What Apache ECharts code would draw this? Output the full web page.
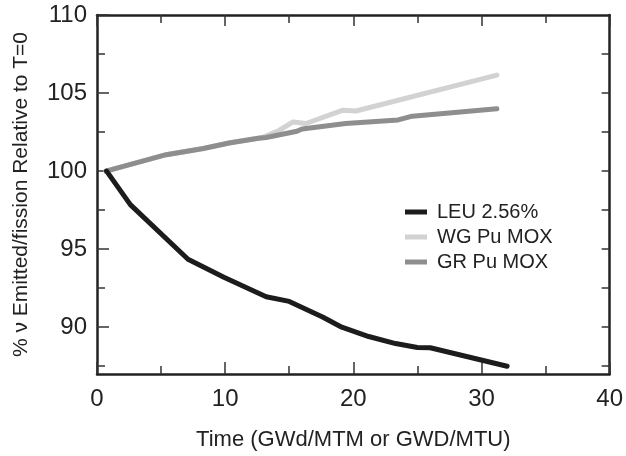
<!DOCTYPE html>
<html>
<head>
<meta charset="utf-8">
<script src="https://cdn.jsdelivr.net/npm/echarts@6/dist/echarts.min.js"></script>
<style>html,body{margin:0;padding:0;background:#fff}#c{width:626px;height:456px}</style>
</head>
<body>
<div id="c"></div>
<script>
const seriesNames = ['LEU 2.56%', 'WG Pu MOX', 'GR Pu MOX'];
const leu = [[0.75,100],[2.6,97.85],[7.1,94.35],[9.9,93.2],[13.2,91.95],[15.0,91.65],[17.6,90.65],[19.1,90.0],[21.2,89.4],[23.3,88.95],[25.0,88.7],[26.0,88.68],[32.0,87.5]];
const wg = [[0.7,100],[5.4,101.05],[8.3,101.45],[10.3,101.8],[12.9,102.15],[14.2,102.6],[15.3,103.15],[16.3,103.05],[19.2,103.9],[20.2,103.85],[31.2,106.15]];
const gr = [[0.7,100],[5.4,101.05],[8.3,101.45],[10.3,101.8],[12.6,102.1],[13.2,102.15],[15.6,102.55],[16.0,102.7],[19.4,103.05],[23.5,103.28],[24.6,103.52],[31.2,104.0]];
const yMajor = [90, 95, 100, 105, 110];
const yMinor = [87.5, 92.5, 97.5, 102.5, 107.5];
const yRight = [87.5, 90, 92.5, 95, 97.5, 100, 102.5, 105, 107.5];
const xTitle = 'Time (GWd/MTM or GWD/MTU)';
const yTitle = '% \u03bd Emitted/fission Relative to T=0';

const FONT = 'Liberation Sans';
const AX = '#222';
const chart = echarts.init(document.getElementById('c'), null, {renderer: 'canvas'});
const lineW = 2.5;
const tickStyle = {color: '#333', width: 1.5};
chart.setOption({
  animation: false,
  backgroundColor: '#fff',
  grid: {left: 97, right: 14, top: 15, bottom: 79, containLabel: false},
  legend: {
    orient: 'vertical', left: 405, top: 202, padding: 0,
    itemWidth: 22, itemHeight: 5, itemGap: 5,
    textStyle: {fontFamily: FONT, fontSize: 20, color: '#222', padding: [0, 0, 0, 5]},
    data: seriesNames.map(n => ({name: n, icon: 'rect'}))
  },
  xAxis: [
    {type: 'value', position: 'bottom', min: 0, max: 40, interval: 10,
     name: xTitle, nameLocation: 'middle', nameGap: 55,
     nameTextStyle: {fontFamily: FONT, fontSize: 22, color: '#222'},
     axisLine: {show: true, lineStyle: {color: AX, width: lineW}},
     axisTick: {show: true, inside: true, length: 12, lineStyle: tickStyle},
     minorTick: {show: true, splitNumber: 2, length: 8, lineStyle: tickStyle},
     axisLabel: {fontFamily: FONT, fontSize: 24, color: '#222', margin: 13},
     splitLine: {show: false}},
    {type: 'value', position: 'top', min: 0, max: 40, interval: 10,
     axisLine: {show: true, lineStyle: {color: AX, width: lineW}},
     axisTick: {show: true, inside: true, length: 11, lineStyle: tickStyle},
     minorTick: {show: true, splitNumber: 2, length: 8, lineStyle: tickStyle},
     axisLabel: {show: false}, splitLine: {show: false}}
  ],
  yAxis: [
    {type: 'value', position: 'left', min: 87, max: 110,
     name: yTitle, nameLocation: 'middle', nameGap: 65, nameRotate: 90,
     nameTextStyle: {fontFamily: FONT, fontSize: 21, color: '#222'},
     axisLine: {show: true, lineStyle: {color: AX, width: lineW}},
     axisTick: {show: true, inside: true, length: 12, customValues: yMajor, lineStyle: tickStyle},
     axisLabel: {fontFamily: FONT, fontSize: 24, color: '#222', margin: 10, customValues: yMajor},
     splitLine: {show: false}},
    {type: 'value', position: 'left', min: 87, max: 110,
     axisLine: {show: false},
     axisTick: {show: true, inside: true, length: 8, customValues: yMinor, lineStyle: tickStyle},
     axisLabel: {show: false}, splitLine: {show: false}},
    {type: 'value', position: 'right', min: 87, max: 110,
     axisLine: {show: true, lineStyle: {color: AX, width: lineW}},
     axisTick: {show: true, inside: true, length: 8, customValues: yRight, lineStyle: tickStyle},
     axisLabel: {show: false}, splitLine: {show: false}}
  ],
  series: [
    {name: seriesNames[0], type: 'line', data: leu, showSymbol: false, symbol: 'none', z: 3,
     itemStyle: {color: '#1c1c1c'}, lineStyle: {color: '#1c1c1c', width: 5, cap: 'round', join: 'round'}},
    {name: seriesNames[1], type: 'line', data: wg, showSymbol: false, symbol: 'none', z: 1,
     itemStyle: {color: '#d2d2d2'}, lineStyle: {color: '#d2d2d2', width: 5, cap: 'round', join: 'round'}},
    {name: seriesNames[2], type: 'line', data: gr, showSymbol: false, symbol: 'none', z: 2,
     itemStyle: {color: '#8e8e8e'}, lineStyle: {color: '#8e8e8e', width: 5, cap: 'round', join: 'round'}}
  ]
});
</script>
</body>
</html>
